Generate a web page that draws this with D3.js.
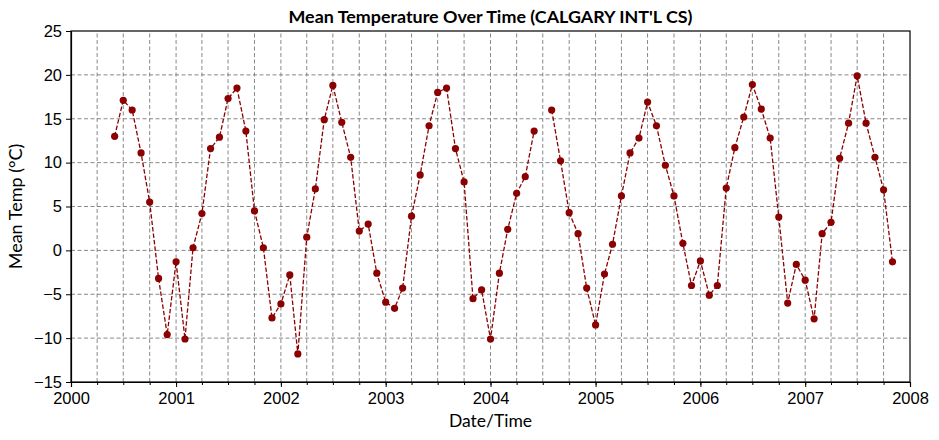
<!DOCTYPE html>
<html lang="en">
<head>
  <meta charset="UTF-8" />
  <title>Mean Temperature Over Time</title>
  <script src="https://d3js.org/d3.v7.min.js"></script>
  <style>
    body { margin: 0; background: #fff; font-family: Lato, "Open Sans", sans-serif; }
    svg { display: block; }
    .tick text { font-size: 16.5px; fill: #000; }
    .grid line { stroke: #7a7a7a; stroke-width: 0.9px; stroke-dasharray: 4,2.5; }
  </style>
</head>
<body>
  <svg id="chart"></svg>
  <script>
    // monthly mean temperature, starting June 2000 (null = missing month)
    const firstMonth = "2000-06-01";
    const meanTemp = [
      13.0, 17.1, 16.0, 11.1, 5.5, -3.2, -9.6,                       // 2000 Jun-Dec
      -1.3, -10.1, 0.3, 4.2, 11.6, 12.9, 17.3, 18.5, 13.6, 4.5, 0.3, -7.7,   // 2001
      -6.1, -2.8, -11.8, 1.5, 7.0, 14.9, 18.8, 14.6, 10.6, 2.2, 3.0, -2.6,   // 2002
      -5.9, -6.6, -4.3, 3.9, 8.6, 14.2, 18.0, 18.5, 11.6, 7.8, -5.5, -4.5,   // 2003
      -10.1, -2.6, 2.4, 6.5, 8.4, 13.6, null, 16.0, 10.2, 4.3, 1.9, -4.3,    // 2004
      -8.5, -2.7, 0.7, 6.2, 11.1, 12.8, 16.9, 14.2, 9.7, 6.2, 0.8, -4.0,     // 2005
      -1.2, -5.1, -4.0, 7.1, 11.7, 15.2, 18.9, 16.1, 12.8, 3.8, -6.0, -1.6,  // 2006
      -3.4, -7.8, 1.9, 3.2, 10.5, 14.5, 19.9, 14.5, 10.6, 6.9, -1.3          // 2007 Jan-Nov
    ];
    const yTicks = [-15, -10, -5, 0, 5, 10, 15, 20, 25];
    const xDomain = ["2000-01-01", "2008-01-01"];

    const width = 939, height = 440;
    const margin = { top: 31, right: 29, bottom: 58, left: 71 };

    const parse = d3.timeParse("%Y-%m-%d");
    const start = parse(firstMonth);
    const data = meanTemp.map((v, i) => ({ date: d3.timeMonth.offset(start, i), value: v }));

    const svg = d3.select("#chart").attr("width", width).attr("height", height);

    const x = d3.scaleTime()
      .domain(xDomain.map(parse))
      .range([margin.left, width - margin.right]);
    const y = d3.scaleLinear()
      .domain([-15, 25])
      .range([height - margin.bottom, margin.top]);

    const quarters = d3.timeMonth.every(3).range(x.domain()[0], d3.timeDay.offset(x.domain()[1], 1));
    const years = d3.timeYear.range(x.domain()[0], d3.timeDay.offset(x.domain()[1], 1));

    // grid
    const grid = svg.append("g").attr("class", "grid");
    grid.selectAll(".gx").data(quarters.slice(1, -1)).join("line")
      .attr("x1", d => x(d)).attr("x2", d => x(d))
      .attr("y1", y(-15)).attr("y2", y(25));
    grid.selectAll(".gy").data(yTicks.slice(1, -1)).join("line")
      .attr("x1", x.range()[0]).attr("x2", x.range()[1])
      .attr("y1", d => y(d)).attr("y2", d => y(d));

    // axes
    svg.append("g")
      .attr("transform", `translate(0,${y(-15)})`)
      .call(d3.axisBottom(x).tickValues(years).tickFormat(d3.timeFormat("%Y")).tickSize(5).tickPadding(5));
    svg.append("g")
      .attr("transform", `translate(0,${y(-15)})`)
      .call(d3.axisBottom(x).tickValues(quarters).tickFormat("").tickSize(3))
      .call(g => g.select(".domain").remove());
    svg.append("g")
      .attr("transform", `translate(${x.range()[0]},0)`)
      .call(d3.axisLeft(y).tickValues(yTicks).tickFormat(d => d < 0 ? "\u2212" + Math.abs(d) : d).tickSize(5).tickPadding(4));

    // frame
    svg.append("rect")
      .attr("x", x.range()[0]).attr("y", y(25))
      .attr("width", x.range()[1] - x.range()[0]).attr("height", y(-15) - y(25))
      .attr("fill", "none").attr("stroke", "#000").attr("stroke-width", 1.2);
    svg.selectAll(".domain").attr("stroke-width", 1.2);

    // line + markers
    const line = d3.line()
      .defined(d => d.value !== null)
      .x(d => x(d.date)).y(d => y(d.value));
    svg.append("path")
      .datum(data)
      .attr("fill", "none")
      .attr("stroke", "#8b0000")
      .attr("stroke-width", 1.3)
      .attr("stroke-dasharray", "4.5,2")
      .attr("d", line);
    svg.selectAll(".pt").data(data.filter(d => d.value !== null)).join("circle")
      .attr("cx", d => x(d.date)).attr("cy", d => y(d.value))
      .attr("r", 3.6).attr("fill", "#8b0000");

    // labels
    svg.append("text")
      .attr("x", (x.range()[0] + x.range()[1]) / 2).attr("y", 23)
      .attr("text-anchor", "middle").attr("font-size", 17.5).attr("font-weight", "bold")
      .attr("textLength", 404).attr("lengthAdjust", "spacingAndGlyphs")
      .text("Mean Temperature Over Time (CALGARY INT'L CS)");
    svg.append("text")
      .attr("x", (x.range()[0] + x.range()[1]) / 2).attr("y", 427)
      .attr("text-anchor", "middle").attr("font-size", 17.5)
      .text("Date/Time");
    svg.append("text")
      .attr("transform", `translate(22,${(y(25) + y(-15)) / 2}) rotate(-90)`)
      .attr("text-anchor", "middle").attr("font-size", 18)
      .text("Mean Temp (°C)");
  </script>
</body>
</html>
